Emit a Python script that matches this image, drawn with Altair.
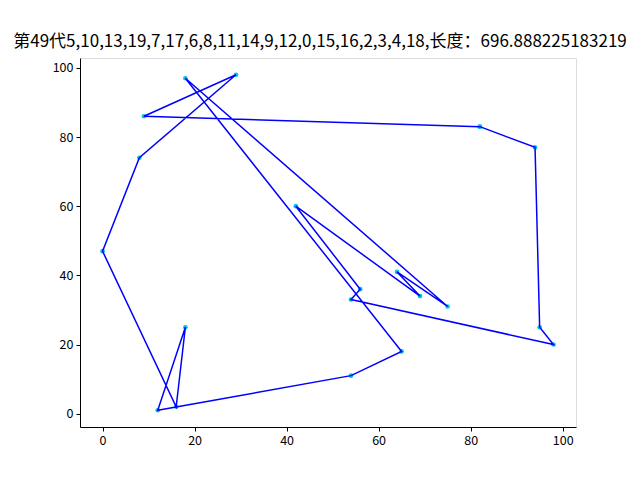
import altair as alt
import pandas as pd

# City coordinates in tour order (closed tour, first city repeated at end)
tour_x = [82, 9, 29, 8, 0, 16, 18, 12, 54, 65, 18, 75, 64, 69, 42, 56, 54, 98, 95, 94, 82]
tour_y = [83, 86, 98, 74, 47, 2, 25, 1, 11, 18, 97, 31, 41, 34, 60, 36, 33, 20, 25, 77, 83]

title_text = "第49代5,10,13,19,7,17,6,8,11,14,9,12,0,15,16,2,3,4,18,长度：696.888225183219"

df = pd.DataFrame({"x": tour_x, "y": tour_y, "step": list(range(len(tour_x)))})

xs = alt.Scale(domain=[-4.9, 102.9], nice=False, zero=False)
ys = alt.Scale(domain=[-3.85, 102.85], nice=False, zero=False)

ax_common = dict(grid=False, tickColor="black", domainColor="black", labelColor="black",
                 labelFontSize=12.5, labelFont="Noto Sans CJK SC", tickSize=4, labelPadding=3,
                 title=None, values=[0, 20, 40, 60, 80, 100])

base = alt.Chart(df)
pts = base.mark_circle(size=22, color="#00c8e0", opacity=1).encode(
    x=alt.X("x:Q", scale=xs, axis=alt.Axis(**ax_common)),
    y=alt.Y("y:Q", scale=ys, axis=alt.Axis(**ax_common)),
)
line = base.mark_line(color="#0000ff", strokeWidth=1.5).encode(
    x=alt.X("x:Q", scale=xs),
    y=alt.Y("y:Q", scale=ys),
    order="step:Q",
)

chart = (pts + line).properties(
    width=496, height=369,
    title=alt.TitleParams(title_text, font="Noto Sans CJK SC", fontSize=17, fontWeight="normal",
                          color="black", anchor="middle", offset=7, dx=-8),
    padding={"left": 80, "top": 58, "right": 64, "bottom": 53},
    autosize=alt.AutoSizeParams(type="none"),
).configure_view(stroke="black", strokeWidth=1).configure(background="white")

chart.save("out.html", embed_options={"renderer": "svg", "actions": False})
